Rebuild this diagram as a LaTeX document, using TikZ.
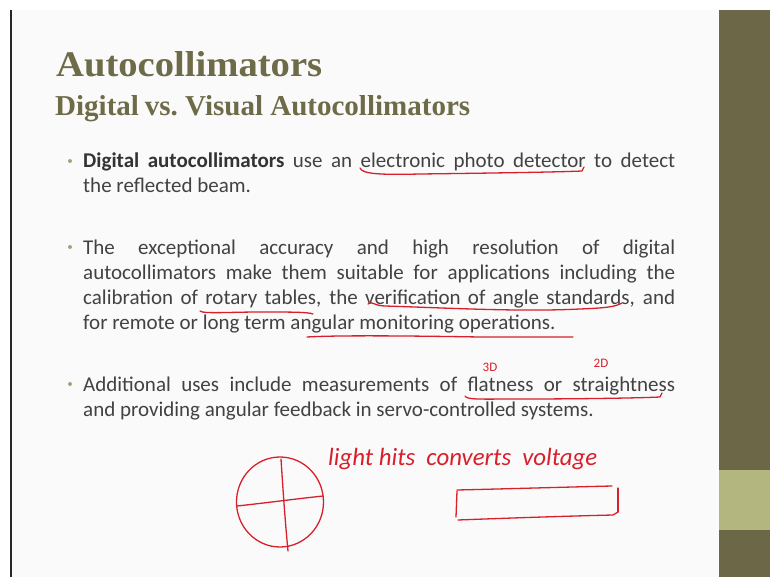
\documentclass[tikz,border=0pt]{standalone}
\usepackage{fontspec}
\usepackage{graphicx}
\setmainfont{Carlito}
\newfontfamily\titlefont{Liberation Serif}
\definecolor{slidebg}{HTML}{FAFAFA}
\definecolor{band}{HTML}{6B6747}
\definecolor{bandlight}{HTML}{B4B680}
\definecolor{titlecol}{HTML}{6D6B48}
\definecolor{bodycol}{HTML}{424242}
\definecolor{pen}{HTML}{D8202C}
\definecolor{bulletcol}{HTML}{A3A37A}
\tikzset{
  bodyline/.style={anchor=base west, inner sep=0pt, text=bodycol, font=\fontsize{21}{25}\selectfont},
  bulletdot/.style={fill=bulletcol, draw=none, circle, inner sep=0pt, minimum size=4pt},
  penline/.style={draw=pen, line width=1.3pt, line cap=round, line join=round},
  pentext/.style={inner sep=0pt, text=pen}
}
\newcommand{\jline}[1]{\makebox[592pt][s]{#1}}
\begin{document}
\begin{tikzpicture}[x=1pt,y=-1pt]
\useasboundingbox (0,0) rectangle (770,577);
\fill[white] (0,0) rectangle (770,577);
\fill[slidebg] (11,10) rectangle (719,577);
\fill[band] (719,10) rectangle (770,577);
\fill[bandlight] (719,470) rectangle (770,530);
\draw[black!85, line width=1.3pt] (11,10) -- (11,577);

% titles
\node[anchor=base west, inner sep=0pt, text=titlecol] (title) at (56,77)
  {\resizebox{266pt}{25pt}{\titlefont\bfseries Autocollimators}};
\node[anchor=base west, inner sep=0pt, text=titlecol] (subtitle) at (55,116)
  {\resizebox{415pt}{20pt}{\titlefont\bfseries Digital\kern-0.05em\ vs.\ Visual Autocollimators}};

% bullet 1
\node[bulletdot] (b1) at (70,161) {};
\node[bodyline] (l11) at (83,168) {\jline{\textbf{\color{black!80}Digital autocollimators} use an electronic photo detector to detect}};
\node[bodyline] (l12) at (83,193) {the reflected beam.};

% bullet 2
\node[bulletdot] (b2) at (70,247) {};
\node[bodyline] (l21) at (83,254) {\jline{The exceptional accuracy and high resolution of digital}};
\node[bodyline] (l22) at (83,279) {\jline{autocollimators make them suitable for applications including the}};
\node[bodyline] (l23) at (83,304) {\jline{calibration of rotary tables, the verification of angle standards, and}};
\node[bodyline] (l24) at (83,329) {for remote or long term angular monitoring operations.};

% bullet 3
\node[bulletdot] (b3) at (70,384) {};
\node[bodyline] (l31) at (83,391) {\jline{Additional uses include measurements of flatness or straightness}};
\node[bodyline] (l32) at (83,416) {and providing angular feedback in servo-controlled systems.};

% handwritten underlines
\draw[penline] (360,168) .. controls (362,174) and (380,175) .. (420,174) .. controls (500,173) and (560,172) .. (582,171) -- (584,167);
\draw[penline] (200,311) .. controls (203,314) and (230,312) .. (260,312) .. controls (290,312) and (308,312) .. (313,314);
\draw[penline] (368,304) .. controls (371,300) and (374,306) .. (385,306) .. controls (450,308) and (520,312) .. (580,309) .. controls (605,308) and (615,307) .. (622,303);
\draw[penline] (307,337) .. controls (340,335) and (420,336) .. (480,337) .. controls (530,337) and (560,337) .. (573,337);
\draw[penline] (465,396) .. controls (467,400) and (480,399) .. (520,399) .. controls (580,399) and (640,398) .. (660,397) -- (662,393);

% annotations 3D / 2D
\node[pentext, font=\fontsize{13}{13}\selectfont] (t3d) at (490,367.5) {3D};
\node[pentext, font=\fontsize{13}{13}\selectfont] (t2d) at (601,363.5) {2D};

% handwritten note
\node[pentext, anchor=base west] (note) at (328,465)
  {\resizebox{269pt}{!}{\itshape light hits\ \ converts\ \ voltage}};

% quadrant detector sketch
\draw[penline] (280,502) ellipse [x radius=43.5, y radius=45];
\draw[penline] (281,459) .. controls (283,490) and (285,520) .. (288,551);
\draw[penline] (237,506) .. controls (265,503) and (295,499) .. (323,496);

% rectangle sketch
\draw[penline] (457,491) -- (456,517);
\draw[penline] (457,490) .. controls (500,489) and (570,487) .. (612,486);
\draw[penline] (618,488) -- (618,512);
\draw[penline] (458,520) .. controls (510,518) and (570,516) .. (613,515) -- (618,512);
\end{tikzpicture}
\end{document}
